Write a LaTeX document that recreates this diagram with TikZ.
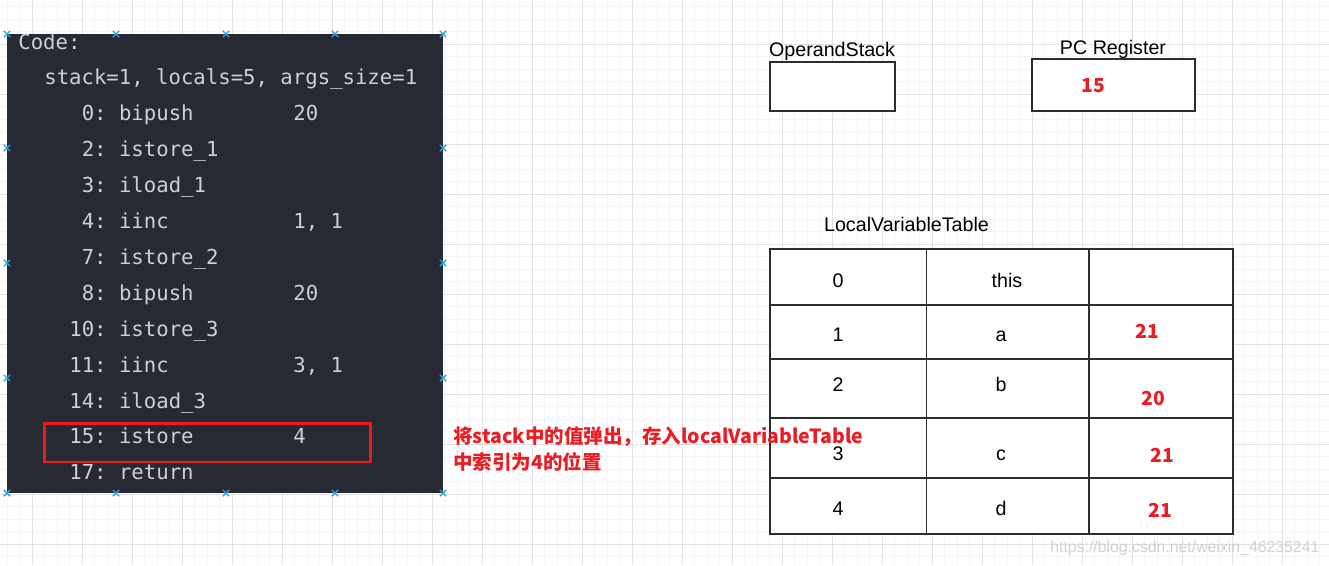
\documentclass[tikz,border=0pt]{standalone}
\usepackage{fontspec}
\setmainfont{Liberation Sans}
\newfontfamily\cjk{Noto Sans CJK SC}
\newfontfamily\codefont{DejaVu Sans Mono}
\usetikzlibrary{shapes.misc}
\frenchspacing

\definecolor{codebg}{RGB}{38,42,51}
\definecolor{codefg}{RGB}{204,208,216}
\definecolor{hlred}{RGB}{240,24,24}
\definecolor{notered}{RGB}{236,28,36}
\definecolor{gridmin}{RGB}{244,244,244}
\definecolor{gridmaj}{RGB}{226,226,226}
\definecolor{markblue}{RGB}{40,160,225}
\definecolor{tblline}{RGB}{45,45,45}

\tikzset{
	code/.style={font=\codefont\fontsize{11.75pt}{13pt}\selectfont, text=codefg, inner sep=0pt, anchor=base west},
	lbl/.style={font=\fontsize{11.2pt}{13pt}\selectfont, inner sep=0pt, anchor=base},
	val/.style={font=\cjk\bfseries\fontsize{11pt}{13pt}\selectfont, text=notered, inner sep=0pt, anchor=base},
	xmark/.style={cross out, draw=markblue, line width=0.8pt, minimum size=0.1cm, inner sep=0pt},
	regbox/.style={draw=tblline, line width=0.9pt, fill=white, inner sep=0pt},
	tbl/.style={draw=tblline, line width=0.9pt},
}

\begin{document}
\begin{tikzpicture}[x=0.02cm, y=-0.02cm]
				\useasboundingbox[fill=white] (0,0) rectangle (1329,565);
				
				% grid
				\foreach \gx in {7.3,19.8,...,1329} \draw[gridmin, line width=0.5pt] (\gx,0) -- (\gx,565);
				\foreach \gy in {6.8,19.3,...,565} \draw[gridmin, line width=0.5pt] (0,\gy) -- (1329,\gy);
				\foreach \gx in {32.3,82.3,...,1329} \draw[gridmaj, line width=0.5pt] (\gx,0) -- (\gx,565);
				\foreach \gy in {44.3,94.3,...,565} \draw[gridmaj, line width=0.5pt] (0,\gy) -- (1329,\gy);
				
				% bytecode
				\node (codebox) [fill=codebg, minimum width=8.72cm, minimum height=9.18cm, inner sep=0pt] at (225,263.5) {};
				\node (ln0) [code] at (18,49) {Code:};
				\node (ln1) [code] at (44,84.9) {stack=1, locals=5, args\_size=1};
				\node (ln2) [code] at (69,120.8) {\phantom{1}0: bipush};
				\node (arg2) [code] at (293,120.8) {20};
				\node (ln3) [code] at (69,156.7) {\phantom{1}2: istore\_1};
				\node (ln4) [code] at (69,192.6) {\phantom{1}3: iload\_1};
				\node (ln5) [code] at (69,228.5) {\phantom{1}4: iinc};
				\node (arg5) [code] at (293,228.5) {1, 1};
				\node (ln6) [code] at (69,264.4) {\phantom{1}7: istore\_2};
				\node (ln7) [code] at (69,300.3) {\phantom{1}8: bipush};
				\node (arg7) [code] at (293,300.3) {20};
				\node (ln8) [code] at (69,336.2) {10: istore\_3};
				\node (ln9) [code] at (69,372.1) {11: iinc};
				\node (arg9) [code] at (293,372.1) {3, 1};
				\node (ln10) [code] at (69,408) {14: iload\_3};
				\node (ln11) [code] at (69,443.9) {15: istore};
				\node (arg11) [code] at (293,443.9) {4};
				\node (ln12) [code] at (69,479.8) {17: return};
				
				% selection handles
				\foreach \mx/\my [count=\i] in {7/34,116/34,226/34,335/34,443/34,7/148,443/148,7/263,443/263,7/378,443/378,7/493,116/493,226/493,335/493,443/493}
					\node (mk\i) [xmark] at (\mx,\my) {};
				
				% highlighted instruction
				\node (hlbox) [draw=hlred, line width=1.7pt, minimum width=6.54cm, minimum height=0.78cm, inner sep=0pt] at (207.5,442.5) {};
				
				% operand stack and pc register
				\node (opstack) [regbox, minimum width=2.5cm, minimum height=0.98cm] at (832.5,86.5) {};
				\node (oplbl) [lbl] at (832,56) {OperandStack};
				\node (pcreg) [regbox, minimum width=3.26cm, minimum height=1.04cm] at (1113.5,85) {};
				\node (pclbl) [lbl] at (1113,54) {PC Register};
				\node (pcval) [val] at (1093,92) {15};
				
				% local variable table
				\node (lvtlbl) [lbl] at (906.5,231) {LocalVariableTable};
				\draw[tbl, fill=white] (770,249) rectangle (1233,534);
				\draw[tbl] (770,305) -- (1233,305);
				\draw[tbl] (770,359) -- (1233,359);
				\draw[tbl] (770,418) -- (1233,418);
				\draw[tbl] (770,478) -- (1233,478);
				\draw[tbl] (926.5,249) -- (926.5,534);
				\draw[tbl] (1089,249) -- (1089,534);
				
				\node (slot0) [lbl] at (838,287) {0};
				\node (slot1) [lbl] at (838,341) {1};
				\node (slot2) [lbl] at (838,391) {2};
				\node (slot3) [lbl] at (838,460) {3};
				\node (slot4) [lbl] at (838,515) {4};
				\node (var0) [lbl] at (1007,287) {this};
				\node (var1) [lbl] at (1001,341) {a};
				\node (var2) [lbl] at (1001,391) {b};
				\node (var3) [lbl] at (1001,460) {c};
				\node (var4) [lbl] at (1001,515) {d};
				\node (val1) [val] at (1147,338) {21};
				\node (val2) [val] at (1153,405) {20};
				\node (val3) [val] at (1162,462) {21};
				\node (val4) [val] at (1160,517) {21};
				
				% note over the table
				\node (note) [font=\cjk\bfseries\fontsize{11.1pt}{15.3pt}\selectfont, text=notered, align=left, anchor=west, inner sep=0pt] at (453,449) {将stack中的值弹出，存入localVariableTable\\中索引为4的位置};
				
				% watermark
				\node (wm) [font=\fontsize{9pt}{10pt}\selectfont, text=black!18, anchor=base west, inner sep=0pt] at (1050,552) {https://blog.csdn.net/weixin\_46235241};
			\end{tikzpicture}
\end{document}
